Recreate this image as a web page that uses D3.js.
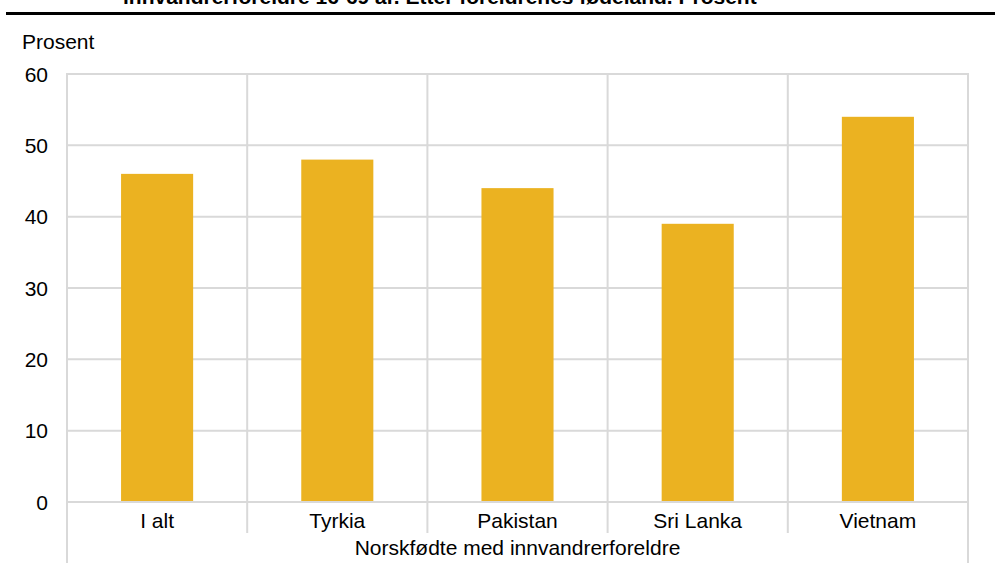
<!DOCTYPE html>
<html>
<head>
<meta charset="utf-8">
<script src="https://cdn.jsdelivr.net/npm/d3@7"></script>
<style>
  html, body { margin: 0; padding: 0; background: #ffffff; }
  svg { display: block; }
  text { font-family: "Liberation Sans", Arial, sans-serif; fill: #000; }
</style>
</head>
<body>
<svg id="chart" width="995" height="563"></svg>
<script>
const titleText = "innvandrerforeldre 16-69 år. Etter foreldrenes fødeland. Prosent";
const yAxisTitle = "Prosent";
const groupLabel = "Norskfødte med innvandrerforeldre";
const categories = ["I alt", "Tyrkia", "Pakistan", "Sri Lanka", "Vietnam"];
const values = [46, 48, 44, 39, 54];
const yTicks = [0, 10, 20, 30, 40, 50, 60];

const svg = d3.select("#chart");
const W = 995, H = 563;
const plot = { left: 67, right: 968, top: 74, bottom: 502 };
const fs = "21px";

const x = d3.scaleBand().domain(categories).range([plot.left, plot.right]).paddingInner(0).paddingOuter(0);
const y = d3.scaleLinear().domain([0, 60]).range([plot.bottom, plot.top]);

// Title (cut off at top, as in the reference)
svg.append("text")
  .attr("x", 123).attr("y", 3.5)
  .style("font-size", fs).style("font-weight", "bold")
  .text(titleText);

// Black rule
svg.append("line")
  .attr("x1", 6).attr("x2", W).attr("y1", 13.5).attr("y2", 13.5)
  .attr("stroke", "#000").attr("stroke-width", 3);

// Y axis title
svg.append("text")
  .attr("x", 22).attr("y", 49)
  .style("font-size", fs)
  .text(yAxisTitle);

const gridColor = "#d9d9d9";

// Horizontal gridlines
svg.append("g").selectAll("line").data(yTicks).join("line")
  .attr("x1", plot.left).attr("x2", plot.right)
  .attr("y1", d => y(d)).attr("y2", d => y(d))
  .attr("stroke", gridColor).attr("stroke-width", 2);

// Vertical category boundaries
const bounds = categories.map(c => x(c)).concat([x(categories[categories.length - 1]) + x.bandwidth()]);
svg.append("g").selectAll("line").data(bounds).join("line")
  .attr("x1", d => d).attr("x2", d => d)
  .attr("y1", plot.top - 1)
  .attr("y2", (d, i) => (i === 0 || i === bounds.length - 1) ? H : 533)
  .attr("stroke", gridColor).attr("stroke-width", 2);

// Bars
const barW = x.bandwidth() * 0.4;
svg.append("g").selectAll("rect").data(categories).join("rect")
  .attr("x", d => x(d) + (x.bandwidth() - barW) / 2)
  .attr("width", barW)
  .attr("y", (d, i) => y(values[i]))
  .attr("height", (d, i) => y(0) - y(values[i]) - 1)
  .attr("fill", "#EBB221");

// Y tick labels
svg.append("g").selectAll("text").data(yTicks).join("text")
  .attr("x", 48).attr("y", d => y(d) + 7.5)
  .attr("text-anchor", "end")
  .style("font-size", fs)
  .text(d => d);

// Category labels
svg.append("g").selectAll("text").data(categories).join("text")
  .attr("x", d => x(d) + x.bandwidth() / 2)
  .attr("y", 528)
  .attr("text-anchor", "middle")
  .style("font-size", fs)
  .text(d => d);

// Group label
svg.append("text")
  .attr("x", (plot.left + plot.right) / 2)
  .attr("y", 555)
  .attr("text-anchor", "middle")
  .style("font-size", fs)
  .text(groupLabel);
</script>
</body>
</html>
